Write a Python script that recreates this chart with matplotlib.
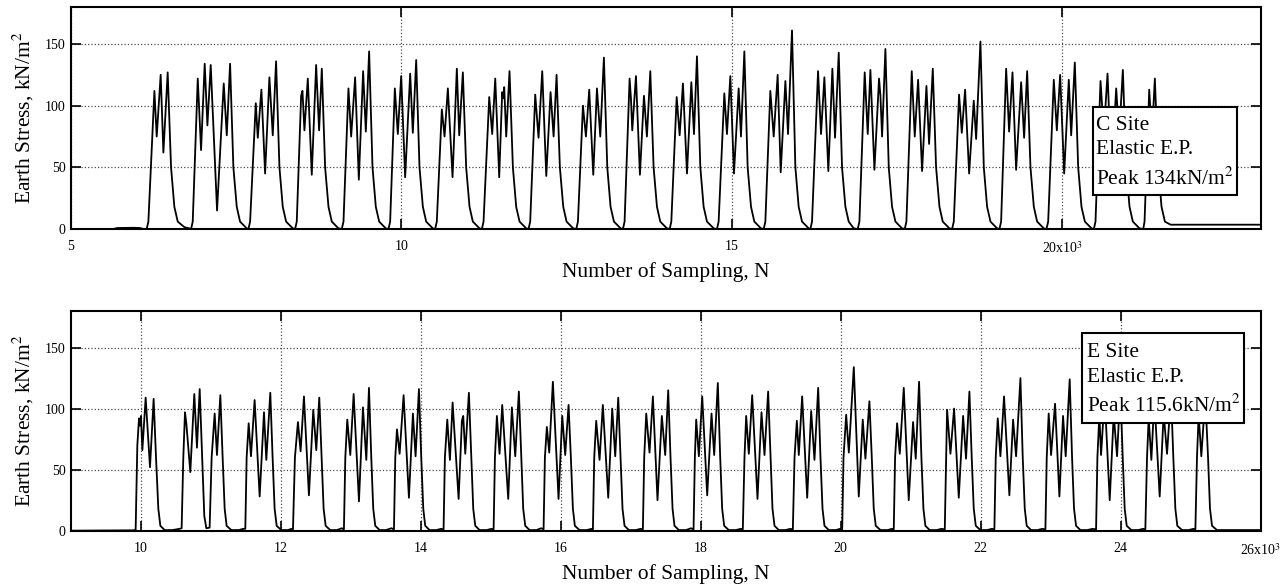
import matplotlib
matplotlib.use("Agg")
import matplotlib.pyplot as plt
from matplotlib.patches import Rectangle

plt.rcParams['font.family'] = ['Liberation Serif', 'DejaVu Serif']
plt.rcParams['mathtext.fontset'] = 'stix'

# C site trace, x in 10^3 samples, y in kN/m2
c_x = [
    5.000, 5.640, 5.700, 5.950, 6.040, 6.100,
    6.145, 6.171, 6.262, 6.297, 6.357, 6.398, 6.463, 6.514, 6.564, 6.615, 6.716, 6.790,
    6.817, 6.842, 6.918, 6.968, 7.023, 7.064, 7.114, 7.210, 7.311, 7.357, 7.407, 7.457, 7.508, 7.558, 7.659,
    7.685, 7.710, 7.796, 7.826, 7.881, 7.937, 8.002, 8.053, 8.103, 8.154, 8.204, 8.255, 8.356,
    8.391, 8.416, 8.482, 8.502, 8.532, 8.583, 8.643, 8.709, 8.754, 8.795, 8.845, 8.896, 8.946, 9.047,
    9.097, 9.123, 9.198, 9.239, 9.299, 9.355, 9.420, 9.461, 9.511, 9.562, 9.612, 9.663, 9.763,
    9.804, 9.829, 9.900, 9.945, 9.996, 10.056, 10.132, 10.172, 10.223, 10.273, 10.324, 10.374, 10.475,
    10.510, 10.535, 10.611, 10.652, 10.702, 10.773, 10.838, 10.874, 10.929, 10.979, 11.030, 11.080, 11.181,
    11.217, 11.242, 11.328, 11.373, 11.419, 11.479, 11.524, 11.540, 11.555, 11.585, 11.635, 11.686, 11.736, 11.787, 11.888,
    11.923, 11.948, 12.024, 12.074, 12.130, 12.191, 12.256, 12.302, 12.347, 12.397, 12.448, 12.498, 12.599,
    12.645, 12.670, 12.746, 12.791, 12.841, 12.902, 12.958, 13.008, 13.063, 13.114, 13.164, 13.215, 13.316,
    13.351, 13.376, 13.452, 13.472, 13.492, 13.548, 13.608, 13.669, 13.714, 13.765, 13.815, 13.866, 13.916, 14.017,
    14.058, 14.083, 14.164, 14.209, 14.259, 14.320, 14.386, 14.426, 14.471, 14.522, 14.572, 14.623, 14.724,
    14.774, 14.799, 14.885, 14.925, 14.976, 15.031, 15.102, 15.137, 15.188, 15.238, 15.289, 15.339, 15.440,
    15.481, 15.506, 15.581, 15.632, 15.692, 15.738, 15.809, 15.849, 15.909, 15.960, 16.010, 16.061, 16.162,
    16.187, 16.212, 16.303, 16.348, 16.399, 16.459, 16.520, 16.560, 16.616, 16.666, 16.717, 16.767, 16.843,
    16.903, 16.929, 17.009, 17.055, 17.095, 17.156, 17.226, 17.247, 17.272, 17.322, 17.373, 17.423, 17.474, 17.574,
    17.615, 17.640, 17.721, 17.766, 17.817, 17.877, 17.943, 17.983, 18.039, 18.089, 18.140, 18.190, 18.291,
    18.331, 18.357, 18.437, 18.478, 18.528, 18.589, 18.659, 18.695, 18.760, 18.811, 18.861, 18.912, 19.013,
    19.048, 19.073, 19.149, 19.194, 19.245, 19.300, 19.376, 19.421, 19.467, 19.517, 19.568, 19.618, 19.719,
    19.759, 19.785, 19.870, 19.916, 19.966, 20.027, 20.097, 20.133, 20.188, 20.239, 20.289, 20.340, 20.441,
    20.476, 20.501, 20.577, 20.627, 20.683, 20.743, 20.814, 20.859, 20.915, 20.965, 21.016, 21.066, 21.167,
    21.223, 21.243, 21.314, 21.354, 21.399, 21.450, 21.500, 21.551, 21.637, 23.000,
]
c_y = [
    0, 0, 0.8, 1.0, 0.8, 0,
    0, 6, 112, 75, 125, 62, 127, 50, 18, 6, 1.5, 0.5,
    0, 6, 122, 64, 134, 84, 133, 15, 118, 76, 134, 50, 18, 6, 0.5,
    0, 6, 102, 74, 113, 45, 123, 76, 136, 50, 18, 6, 0.5,
    0, 6, 108, 112, 80, 122, 44, 133, 80, 130, 50, 18, 6, 0.5,
    0, 6, 114, 75, 123, 40, 128, 79, 144, 50, 18, 6, 0.5,
    0, 6, 114, 77, 124, 42, 126, 78, 137, 50, 18, 6, 0.5,
    0, 6, 97, 75, 114, 42, 130, 76, 127, 50, 18, 6, 0.5,
    0, 6, 107, 77, 122, 42, 111, 106, 115, 75, 128, 50, 18, 6, 0.5,
    0, 6, 109, 74, 128, 43, 111, 75, 125, 50, 18, 6, 0.5,
    0, 6, 100, 75, 113, 44, 114, 75, 139, 50, 18, 6, 0.5,
    0, 6, 122, 106, 80, 124, 44, 108, 75, 128, 50, 18, 6, 0.5,
    0, 6, 107, 76, 118, 45, 119, 77, 140, 50, 18, 6, 0.5,
    0, 6, 110, 77, 124, 45, 114, 75, 144, 50, 18, 6, 0.5,
    0, 6, 112, 75, 125, 46, 120, 77, 161, 50, 18, 6, 0.5,
    0, 6, 128, 77, 123, 47, 130, 74, 143, 50, 18, 6, 0.5,
    0, 6, 127, 77, 129, 48, 122, 108, 75, 146, 50, 18, 6, 0.5,
    0, 6, 128, 75, 121, 47, 116, 69, 130, 50, 18, 6, 0.5,
    0, 6, 109, 78, 113, 45, 104, 73, 152, 50, 18, 6, 0.5,
    0, 6, 130, 79, 127, 48, 119, 74, 128, 50, 18, 6, 0.5,
    0, 6, 121, 80, 125, 45, 121, 76, 135, 50, 18, 6, 0.5,
    0, 6, 120, 78, 126, 45, 114, 76, 129, 50, 18, 6, 0.5,
    0, 6, 113, 75, 122, 50, 18, 6, 3.5, 3.5,
]

# E site trace
e_x = [
    9.000, 9.900,
    9.924, 9.948, 9.972, 9.986, 10.000, 10.020, 10.067, 10.129, 10.181, 10.215, 10.248, 10.277, 10.339,
    10.450, 10.550,
    10.581, 10.605, 10.629, 10.648, 10.705, 10.762, 10.800, 10.839, 10.877, 10.905, 10.934, 10.981, 11.010, 11.053, 11.086, 11.134, 11.167, 11.196, 11.224, 11.291,
    11.400, 11.460,
    11.491, 11.510, 11.539, 11.572, 11.624, 11.696, 11.758, 11.791, 11.848, 11.881, 11.910, 11.939, 12.005,
    12.100, 12.150,
    12.172, 12.200, 12.243, 12.281, 12.329, 12.400, 12.462, 12.505, 12.548, 12.581, 12.610, 12.639, 12.705,
    12.800, 12.870,
    12.900, 12.920, 12.948, 12.991, 13.039, 13.115, 13.172, 13.220, 13.258, 13.291, 13.319, 13.348, 13.410,
    13.500, 13.580,
    13.615, 13.634, 13.658, 13.696, 13.753, 13.829, 13.886, 13.924, 13.972, 14.005, 14.034, 14.062, 14.124,
    14.220, 14.290,
    14.324, 14.343, 14.377, 14.415, 14.453, 14.539, 14.586, 14.605, 14.634, 14.686, 14.720, 14.748, 14.777, 14.839,
    14.940, 15.010,
    15.039, 15.058, 15.086, 15.124, 15.162, 15.248, 15.300, 15.348, 15.400, 15.434, 15.462, 15.491, 15.553,
    15.650, 15.720,
    15.753, 15.772, 15.800, 15.834, 15.886, 15.967, 16.020, 16.062, 16.110, 16.143, 16.172, 16.200, 16.267,
    16.370, 16.440,
    16.458, 16.477, 16.505, 16.553, 16.600, 16.677, 16.734, 16.777, 16.820, 16.853, 16.881, 16.910, 16.972,
    17.070, 17.140,
    17.172, 17.191, 17.220, 17.267, 17.315, 17.381, 17.443, 17.491, 17.534, 17.567, 17.596, 17.624, 17.686,
    17.790, 17.860,
    17.896, 17.915, 17.934, 17.972, 18.020, 18.091, 18.153, 18.191, 18.243, 18.277, 18.305, 18.334, 18.400,
    18.500, 18.570,
    18.600, 18.624, 18.648, 18.686, 18.734, 18.810, 18.867, 18.910, 18.962, 18.996, 19.024, 19.053, 19.115,
    19.210, 19.280,
    19.315, 19.339, 19.372, 19.400, 19.448, 19.520, 19.577, 19.624, 19.677, 19.710, 19.739, 19.767, 19.829,
    19.930, 19.990,
    20.020, 20.039, 20.077, 20.115, 20.186, 20.257, 20.314, 20.352, 20.409, 20.443, 20.471, 20.500, 20.567,
    20.670, 20.730,
    20.757, 20.776, 20.805, 20.843, 20.900, 20.971, 21.033, 21.071, 21.119, 21.152, 21.181, 21.209, 21.271,
    21.370, 21.440,
    21.486, 21.505, 21.519, 21.567, 21.619, 21.686, 21.748, 21.790, 21.838, 21.871, 21.900, 21.929, 21.995,
    22.090, 22.160,
    22.195, 22.214, 22.243, 22.281, 22.333, 22.409, 22.462, 22.505, 22.567, 22.600, 22.629, 22.657, 22.719,
    22.810, 22.880,
    22.924, 22.943, 22.971, 23.005, 23.062, 23.124, 23.176, 23.214, 23.271, 23.305, 23.333, 23.362, 23.424,
    23.520, 23.600,
    23.648, 23.667, 23.695, 23.719, 23.771, 23.843, 23.900, 23.948, 23.995, 24.029, 24.057, 24.086, 24.152,
    24.250, 24.320,
    24.352, 24.376, 24.400, 24.438, 24.481, 24.557, 24.614, 24.662, 24.719, 24.752, 24.781, 24.809, 24.876,
    24.970, 25.040,
    25.067, 25.090, 25.114, 25.152, 25.209, 25.248, 25.276, 25.305, 25.376, 26.000,
]
e_y = [
    0, 0.3,
    1, 70, 92, 86, 94, 66, 109, 52, 108, 60, 18, 4, 0.5,
    0.5, 1.5,
    2, 60, 97, 88, 48, 112, 68, 116, 55, 12, 2, 2.5, 60, 96, 62, 111, 60, 18, 4, 0.5,
    0.5, 1.5,
    1.5, 60, 88, 61, 107, 28, 97, 58, 113, 60, 18, 4, 0.5,
    0.5, 1.5,
    1, 60, 89, 65, 110, 29, 99, 66, 109, 60, 18, 4, 0.5,
    0.5, 2,
    1, 60, 91, 62, 112, 24, 101, 58, 117, 60, 18, 4, 0.5,
    0.5, 2,
    1, 60, 83, 63, 111, 27, 96, 61, 116, 60, 18, 4, 0.5,
    0.5, 1.5,
    1, 60, 91, 58, 105, 26, 90, 94, 63, 113, 60, 18, 4, 0.5,
    0.5, 1.5,
    1, 60, 94, 63, 103, 26, 101, 61, 114, 60, 18, 4, 0.5,
    0.5, 2,
    1, 60, 85, 64, 122, 26, 94, 62, 103, 60, 18, 4, 0.5,
    0.5, 1.5,
    1, 60, 90, 58, 103, 27, 100, 61, 109, 60, 18, 4, 0.5,
    0.5, 1.5,
    1, 60, 96, 64, 110, 25, 94, 62, 115, 60, 18, 4, 0.5,
    0.5, 2,
    1, 60, 91, 61, 110, 29, 96, 62, 121, 60, 18, 4, 0.5,
    0.5, 1.5,
    1, 60, 94, 63, 111, 26, 97, 62, 114, 60, 18, 4, 0.5,
    0.5, 1.5,
    1, 60, 90, 62, 110, 27, 98, 58, 117, 60, 18, 4, 0.5,
    0.5, 1.5,
    1, 60, 95, 64, 134, 28, 91, 59, 106, 60, 18, 4, 0.5,
    0.5, 1.5,
    1, 60, 88, 63, 117, 25, 89, 59, 122, 60, 18, 4, 0.5,
    0.5, 1.5,
    1, 60, 99, 63, 100, 27, 94, 59, 114, 60, 18, 4, 0.5,
    0.5, 1.5,
    1, 60, 92, 61, 110, 29, 91, 61, 125, 60, 18, 4, 0.5,
    0.5, 1.5,
    1, 60, 96, 62, 104, 28, 94, 61, 124, 60, 18, 4, 0.5,
    0.5, 1.5,
    1, 60, 95, 62, 110, 25, 95, 61, 116, 60, 18, 4, 0.5,
    0.5, 1.5,
    1, 60, 92, 58, 108, 28, 96, 63, 112, 60, 18, 4, 0.5,
    0.5, 1.5,
    1, 60, 95, 61, 110, 60, 18, 4, 0.5, 0.5,
]

c_ticks = [5, 10, 15, 20]
c_ticklabels = ['5', '10', '15', r'20x10$^3$']
e_ticks = [10, 12, 14, 16, 18, 20, 22, 24, 26]
e_ticklabels = ['10', '12', '14', '16', '18', '20', '22', '24', r'26x10$^3$']
y_ticks = [0, 50, 100, 150]

c_note = ['C Site', 'Elastic E.P.', r'Peak 134kN/m$^2$']
e_note = ['E Site', 'Elastic E.P.', r'Peak 115.6kN/m$^2$']

fig = plt.figure(figsize=(12.86, 5.86), dpi=100)
ax1 = fig.add_axes([0.0552, 0.6092, 0.9251, 0.3788])
ax2 = fig.add_axes([0.0552, 0.0944, 0.9251, 0.3749])


def setup(ax, xs, ys, xlim, ticks, labels, note, box, text_x, text_y):
    ax.plot(xs, ys, color='black', lw=1.3)
    ax.set_xlim(*xlim)
    ax.set_ylim(0, 180)
    ax.set_xticks(ticks)
    ax.set_xticklabels(labels)
    ax.set_yticks(y_ticks)
    ax.grid(True, ls=':', color='0.3', lw=0.9)
    ax.tick_params(direction='in', length=7, width=1.2, top=True, right=True,
                   labelsize=10)
    ax.tick_params(axis='x', pad=8)
    ax.tick_params(axis='y', pad=4)
    for s in ax.spines.values():
        s.set_linewidth(1.5)
    ax.set_xlabel('Number of Sampling, N', fontsize=15.5, labelpad=4.5)
    ax.set_ylabel(r'Earth Stress, kN/m$^2$', fontsize=15.5, labelpad=6)
    ax.add_patch(Rectangle((box[0], box[1]), box[2], box[3], transform=ax.transAxes,
                           facecolor='white', edgecolor='black', lw=1.5, zorder=5))
    for t, yy in zip(note, text_y):
        ax.text(text_x, yy, t, transform=ax.transAxes, fontsize=15.5,
                va='baseline', ha='left', zorder=6)


setup(ax1, c_x, c_y, (5, 23), c_ticks, c_ticklabels, c_note,
      (0.859, 0.153, 0.121, 0.398), 0.862, [0.446, 0.338, 0.201])
setup(ax2, e_x, e_y, (9, 26), e_ticks, e_ticklabels, e_note,
      (0.850, 0.4916, 0.136, 0.407), 0.854, [0.792, 0.678, 0.539])

fig.savefig('out.png', dpi=100)
